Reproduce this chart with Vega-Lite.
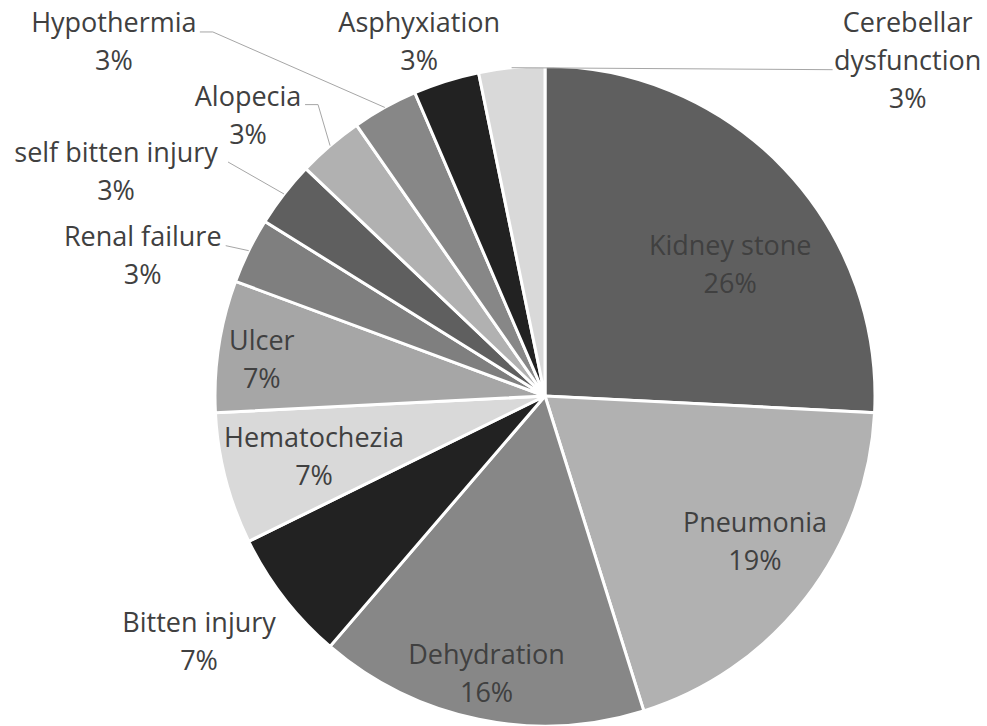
{
  "$schema": "https://vega.github.io/schema/vega-lite/v6.json",
  "width": 884,
  "height": 660,
  "autosize": "none",
  "padding": {"left": 103, "top": 66, "right": 0, "bottom": 0},
  "background": "white",
  "config": {
    "view": {"stroke": null},
    "text": {"font": "Open Sans", "fontSize": 27, "color": "#404040", "lineHeight": 38, "lineBreak": "\n", "align": "center", "baseline": "middle"}
  },
  "data": {
    "values": [
      {"cause": "Kidney stone", "count": 8, "percent": 26},
      {"cause": "Pneumonia", "count": 6, "percent": 19},
      {"cause": "Dehydration", "count": 5, "percent": 16},
      {"cause": "Bitten injury", "count": 2, "percent": 7},
      {"cause": "Hematochezia", "count": 2, "percent": 7},
      {"cause": "Ulcer", "count": 2, "percent": 7},
      {"cause": "Renal failure", "count": 1, "percent": 3},
      {"cause": "self bitten injury", "count": 1, "percent": 3},
      {"cause": "Alopecia", "count": 1, "percent": 3},
      {"cause": "Hypothermia", "count": 1, "percent": 3},
      {"cause": "Asphyxiation", "count": 1, "percent": 3},
      {"cause": "Cerebellar dysfunction", "count": 1, "percent": 3}
    ]
  },
  "transform": [
    {"window": [{"op": "row_number", "as": "idx"}]},
    {"joinaggregate": [{"op": "sum", "field": "count", "as": "total"}]},
    {"window": [{"op": "sum", "field": "count", "as": "cum"}], "sort": [{"field": "idx", "order": "ascending"}], "frame": [null, 0]},
    {"calculate": "datum.cum - datum.count / 2", "as": "mid"},
    {"calculate": "2 * PI * datum.mid / datum.total", "as": "ang"},
    {"calculate": "330 * sin(datum.ang)", "as": "ex"},
    {"calculate": "330 * cos(datum.ang)", "as": "ey"},
    {"calculate": "datum.cause + '\\n' + datum.percent + '%'", "as": "label"}
  ],
  "layer": [
    {
      "mark": {"type": "arc", "outerRadius": 330, "stroke": "white", "strokeWidth": 3},
      "encoding": {
        "theta": {"field": "count", "type": "quantitative", "stack": true},
        "order": {"field": "idx", "type": "quantitative"},
        "color": {
          "field": "cause",
          "type": "nominal",
          "scale": {
            "domain": ["Kidney stone", "Pneumonia", "Dehydration", "Bitten injury", "Hematochezia", "Ulcer", "Renal failure", "self bitten injury", "Alopecia", "Hypothermia", "Asphyxiation", "Cerebellar dysfunction"],
            "range": ["#5f5f5f", "#b1b1b1", "#878787", "#222222", "#d9d9d9", "#a6a6a6", "#7f7f7f", "#5f5f5f", "#b1b1b1", "#878787", "#222222", "#d9d9d9"]
          },
          "legend": null
        }
      }
    },
    {
      "encoding": {
        "x": {"field": "ex", "type": "quantitative", "scale": {"domain": [-442, 442], "nice": false, "zero": false}, "axis": null},
        "y": {"field": "ey", "type": "quantitative", "scale": {"domain": [-330, 330], "nice": false, "zero": false}, "axis": null}
      },
      "layer": [
        {
          "transform": [{"filter": "datum.cause === 'Kidney stone'"}],
          "mark": {"type": "text", "dx": -54, "dy": 78},
          "encoding": {"text": {"field": "label"}}
        },
        {
          "transform": [{"filter": "datum.cause === 'Pneumonia'"}],
          "mark": {"type": "text", "dx": -51, "dy": -74},
          "encoding": {"text": {"field": "label"}}
        },
        {
          "transform": [{"filter": "datum.cause === 'Dehydration'"}],
          "mark": {"type": "text", "dx": 8, "dy": -63},
          "encoding": {"text": {"field": "label"}}
        },
        {
          "transform": [{"filter": "datum.cause === 'Hematochezia'"}],
          "mark": {"type": "text", "dx": 88.5, "dy": -39.5},
          "encoding": {"text": {"field": "label"}}
        },
        {
          "transform": [{"filter": "datum.cause === 'Ulcer'"}],
          "mark": {"type": "text", "dx": 43, "dy": -4.5},
          "encoding": {"text": {"field": "label"}}
        },
        {
          "transform": [{"filter": "datum.cause === 'Bitten injury'"}],
          "mark": {"type": "text", "dx": -85, "dy": 26},
          "encoding": {"text": {"field": "label"}}
        },
        {
          "transform": [{"filter": "datum.cause === 'Renal failure'"}],
          "mark": {"type": "text", "dx": -106, "dy": -13},
          "encoding": {"text": {"field": "label"}}
        },
        {
          "transform": [{"filter": "datum.cause === 'self bitten injury'"}],
          "mark": {"type": "text", "dx": -168, "dy": -40},
          "encoding": {"text": {"field": "label"}}
        },
        {
          "transform": [{"filter": "datum.cause === 'Alopecia'"}],
          "mark": {"type": "text", "dx": -82, "dy": -48},
          "encoding": {"text": {"field": "label"}}
        },
        {
          "transform": [{"filter": "datum.cause === 'Hypothermia'"}],
          "mark": {"type": "text", "dx": -271, "dy": -83},
          "encoding": {"text": {"field": "label"}}
        },
        {
          "transform": [{"filter": "datum.cause === 'Asphyxiation'"}],
          "mark": {"type": "text", "dx": -27, "dy": -57},
          "encoding": {"text": {"field": "label"}}
        },
        {
          "transform": [
            {"filter": "datum.cause === 'Cerebellar dysfunction'"},
            {"calculate": "datum.cause + ' ' + datum.percent + '%'", "as": "label3"}
          ],
          "mark": {"type": "text", "dx": 396, "dy": -44, "lineBreak": " "},
          "encoding": {"text": {"field": "label3"}}
        },
        {
          "transform": [{"filter": "datum.cause === 'Renal failure'"}],
          "mark": {"type": "rule", "color": "#a6a6a6", "strokeWidth": 1, "x2Offset": -23, "y2Offset": -5},
          "encoding": {"x2": {"field": "ex"}, "y2": {"field": "ey"}}
        },
        {
          "transform": [{"filter": "datum.cause === 'self bitten injury'"}],
          "mark": {"type": "rule", "color": "#a6a6a6", "strokeWidth": 1, "x2Offset": -56, "y2Offset": -32},
          "encoding": {"x2": {"field": "ex"}, "y2": {"field": "ey"}}
        },
        {
          "transform": [{"filter": "datum.cause === 'Alopecia'"}],
          "mark": {"type": "rule", "color": "#a6a6a6", "strokeWidth": 1, "x2Offset": -12, "y2Offset": -41},
          "encoding": {"x2": {"field": "ex"}, "y2": {"field": "ey"}}
        },
        {
          "transform": [{"filter": "datum.cause === 'Alopecia'"}],
          "mark": {"type": "rule", "color": "#a6a6a6", "strokeWidth": 1, "xOffset": -12, "yOffset": -41, "x2Offset": -25, "y2Offset": -41},
          "encoding": {"x2": {"field": "ex"}, "y2": {"field": "ey"}}
        },
        {
          "transform": [{"filter": "datum.cause === 'Hypothermia'"}],
          "mark": {"type": "rule", "color": "#a6a6a6", "strokeWidth": 1, "x2Offset": -172, "y2Offset": -75.5},
          "encoding": {"x2": {"field": "ex"}, "y2": {"field": "ey"}}
        },
        {
          "transform": [{"filter": "datum.cause === 'Hypothermia'"}],
          "mark": {"type": "rule", "color": "#a6a6a6", "strokeWidth": 1, "xOffset": -172, "yOffset": -75.5, "x2Offset": -185, "y2Offset": -75.5},
          "encoding": {"x2": {"field": "ex"}, "y2": {"field": "ey"}}
        },
        {
          "transform": [{"filter": "datum.cause === 'Cerebellar dysfunction'"}],
          "mark": {"type": "rule", "color": "#a6a6a6", "strokeWidth": 1, "x2Offset": 321, "y2Offset": 2},
          "encoding": {"x2": {"field": "ex"}, "y2": {"field": "ey"}}
        }
      ]
    }
  ]
}
